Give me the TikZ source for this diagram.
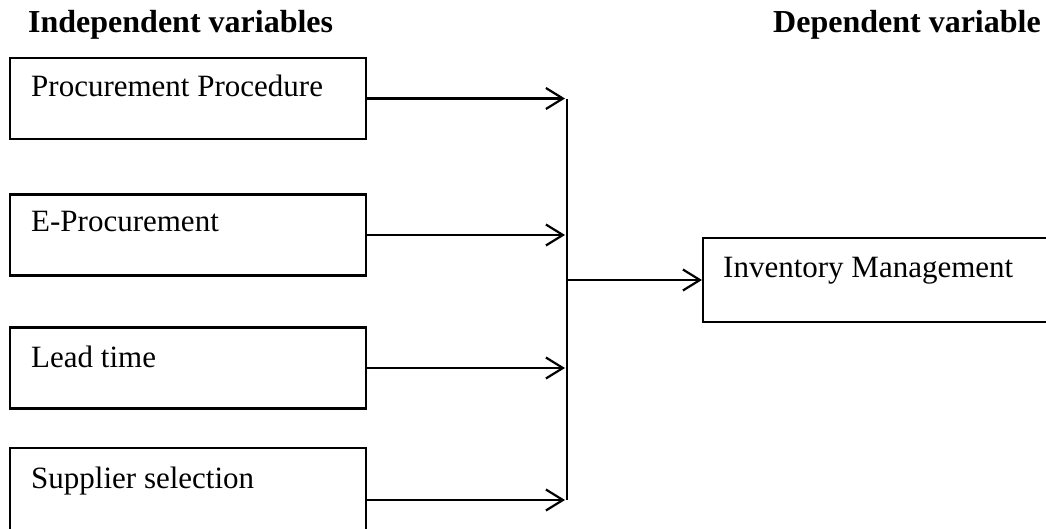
\documentclass[tikz,border=0pt]{standalone}
\usepackage{fontspec}
\setmainfont{Liberation Serif}
\usetikzlibrary{arrows.meta}
\begin{document}
\begin{tikzpicture}[x=1pt,y=-1pt,
  box/.style={draw, line width=2.2pt, rectangle, inner sep=0pt},
  lbl/.style={inner sep=0pt, anchor=base west, font=\fontsize{31}{37}\selectfont},
  head/.style={inner sep=0pt, anchor=base west, font=\fontsize{32}{38}\selectfont\bfseries},
  arr/.style={line width=2.2pt, -{Straight Barb[length=17pt,width=21pt,line width=2.2pt]}},
  bar/.style={line width=2.2pt}]
\useasboundingbox (0,0) rectangle (1046,529);
\clip (0,0) rectangle (1046,529);
% headers
\node[head] (hi) at (28,33) {Independent variables};
\node[head] (hd) at (773,33) {Dependent variable};
% left boxes
\node[box, minimum width=356pt, minimum height=81pt] (b1) at (188,98.5) {};
\node[box, minimum width=356pt, minimum height=81pt] (b2) at (188,235) {};
\node[box, minimum width=356pt, minimum height=81pt] (b3) at (188,368) {};
\node[box, minimum width=356pt, minimum height=104pt] (b4) at (188,500) {};
\node[lbl] (t1) at (31,97) {Procurement Procedure};
\node[lbl] (t2) at (31,232) {E-Procurement};
\node[lbl] (t3) at (31,367) {Lead time};
\node[lbl] (t4) at (31,488) {Supplier selection};
% right box
\node[box, minimum width=360pt, minimum height=84pt, anchor=west] (rb) at (702,280) {};
\node[lbl] (tr) at (723,277) {Inventory Management};
% junction
\coordinate (top) at (567,99);
\coordinate (bot) at (567,500);
\coordinate (jc) at (567,280);
\draw[bar] (top) -- (bot);
\draw[arr] (b1.east) -- (b1.east -| 565,0);
\draw[arr] (b2.east) -- (b2.east -| 565,0);
\draw[arr] (b3.east) -- (b3.east -| 565,0);
\draw[arr] (b4.east) -- (b4.east -| 565,0);
\draw[arr] (jc) -- (rb.west);
\end{tikzpicture}
\end{document}
